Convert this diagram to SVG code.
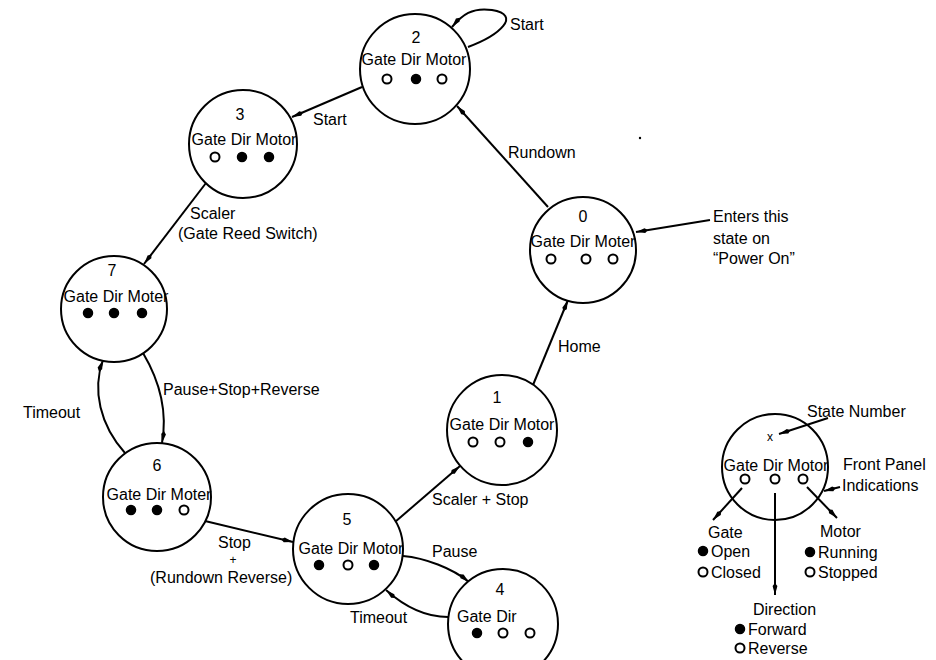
<svg xmlns="http://www.w3.org/2000/svg" width="936" height="660" viewBox="0 0 936 660">
<defs>
<style>
.st{fill:#fff;stroke:#000;stroke-width:2}
.t{font-family:"Liberation Sans",Arial,sans-serif;font-size:16px;fill:#000}
.c{text-anchor:middle}
.on{fill:#000;stroke:#000;stroke-width:1.5}
.off{fill:#fff;stroke:#000;stroke-width:2}
.e{fill:none;stroke:#000;stroke-width:2;marker-end:url(#ah)}
</style>
<marker id="ah" viewBox="0 0 12 6" refX="12" refY="3" markerWidth="12" markerHeight="6" markerUnits="userSpaceOnUse" orient="auto">
<path d="M0,3 L3,0.6 L12,3 L3,5.4 Z" fill="#000"/>
</marker>
</defs>
<rect width="936" height="660" fill="#fff"/>

<g id="edges">
<line class="e" x1="548" y1="207" x2="457" y2="106"/>
<path class="e" d="M468,47 C500,35 522,15 492,10 C472,7 462,15 452,27"/>
<line class="e" x1="362" y1="87" x2="292" y2="117"/>
<line class="e" x1="206" y1="183" x2="144" y2="264"/>
<path class="e" d="M143,353 C162,385 167,415 162,443"/>
<path class="e" d="M125,453 C100,425 92,390 103,360"/>
<line class="e" x1="205" y1="521" x2="293" y2="542"/>
<line class="e" x1="395" y1="522" x2="460" y2="466"/>
<line class="e" x1="533" y1="385" x2="568" y2="300"/>
<path class="e" d="M403,556 C425,558 452,568 469,582"/>
<path class="e" d="M448,617 C425,617 405,607 386,590"/>
<line class="e" x1="710" y1="220" x2="636" y2="232"/>
<circle cx="640" cy="138" r="1.2" fill="#000"/>
</g>

<g id="labels">
<text class="t" x="508" y="158">Rundown</text>
<text class="t" x="510" y="30">Start</text>
<text class="t" x="313" y="125">Start</text>
<text class="t" x="190" y="219">Scaler</text>
<text class="t" x="178" y="239">(Gate Reed Switch)</text>
<text class="t" x="163" y="395">Pause+Stop+Reverse</text>
<text class="t" x="23" y="418">Timeout</text>
<text class="t" x="218" y="548">Stop</text>
<text class="t c" x="233" y="564" style="font-size:12px">+</text>
<text class="t" x="150" y="583">(Rundown Reverse)</text>
<text class="t" x="432" y="505">Scaler + Stop</text>
<text class="t" x="558" y="352">Home</text>
<text class="t" x="432" y="557">Pause</text>
<text class="t" x="350" y="623">Timeout</text>
<text class="t" x="713" y="222">Enters this</text>
<text class="t" x="713" y="244">state on</text>
<text class="t" x="713" y="264">“Power On”</text>
</g>

<g id="state2">
<circle class="st" cx="415" cy="69" r="55"/>
<text class="t c" x="416" y="43">2</text>
<text class="t c" x="414" y="65">Gate Dir Motor</text>
<circle class="off" cx="387" cy="79" r="4.5"/><circle class="on" cx="416" cy="79" r="4.5"/><circle class="off" cx="442" cy="79" r="4.5"/>
</g>

<g id="state3">
<circle class="st" cx="243" cy="144" r="54"/>
<text class="t c" x="240" y="120">3</text>
<text class="t c" x="244" y="145">Gate Dir Motor</text>
<circle class="off" cx="215" cy="157" r="4.5"/><circle class="on" cx="242" cy="157" r="4.5"/><circle class="on" cx="269" cy="157" r="4.5"/>
</g>

<g id="state7">
<circle class="st" cx="114" cy="309" r="53"/>
<text class="t c" x="112" y="276">7</text>
<text class="t c" x="116" y="302">Gate Dir Moter</text>
<circle class="on" cx="88" cy="313" r="4.5"/><circle class="on" cx="114" cy="313" r="4.5"/><circle class="on" cx="142" cy="313" r="4.5"/>
</g>

<g id="state6">
<circle class="st" cx="157" cy="497" r="54"/>
<text class="t c" x="157" y="471">6</text>
<text class="t c" x="159" y="500">Gate Dir Moter</text>
<circle class="on" cx="131" cy="510" r="4.5"/><circle class="on" cx="157" cy="510" r="4.5"/><circle class="off" cx="184" cy="510" r="4.5"/>
</g>

<g id="state5">
<circle class="st" cx="348" cy="549" r="55"/>
<text class="t c" x="347" y="525">5</text>
<text class="t c" x="351" y="554">Gate Dir Motor</text>
<circle class="on" cx="319" cy="565" r="4.5"/><circle class="off" cx="348" cy="565" r="4.5"/><circle class="on" cx="374" cy="565" r="4.5"/>
</g>

<g id="state4">
<circle class="st" cx="503" cy="624" r="55"/>
<text class="t c" x="500" y="595">4</text>
<text class="t" x="457" y="622">Gate Dir</text>
<circle class="on" cx="477" cy="633" r="4.5"/><circle class="off" cx="503" cy="633" r="4.5"/><circle class="off" cx="530" cy="633" r="4.5"/>
</g>

<g id="state1">
<circle class="st" cx="502" cy="430" r="55"/>
<text class="t c" x="497" y="403">1</text>
<text class="t c" x="502" y="430">Gate Dir Motor</text>
<circle class="off" cx="473" cy="442" r="4.5"/><circle class="off" cx="500" cy="442" r="4.5"/><circle class="on" cx="528" cy="442" r="4.5"/>
</g>

<g id="state0">
<circle class="st" cx="583" cy="250" r="53"/>
<text class="t c" x="583" y="222">0</text>
<text class="t c" x="583" y="247">Gate Dir Moter</text>
<circle class="off" cx="551" cy="259" r="4.5"/><circle class="off" cx="586" cy="259" r="4.5"/><circle class="off" cx="613" cy="259" r="4.5"/>
</g>

<g id="legend">
<circle class="st" cx="775" cy="467" r="53"/>
<text class="t c" x="770" y="441" style="font-size:12px">x</text>
<text class="t c" x="776" y="471">Gate Dir Motor</text>
<circle class="off" cx="745" cy="479" r="4.5"/><circle class="off" cx="775" cy="479" r="4.5"/><circle class="off" cx="803" cy="479" r="4.5"/>
<line class="e" x1="828" y1="418" x2="779" y2="434"/>
<line class="e" x1="840" y1="487" x2="824" y2="491"/>
<line class="e" x1="742" y1="488" x2="713" y2="520"/>
<line class="e" x1="807" y1="487" x2="837" y2="518"/>
<line class="e" x1="775" y1="493" x2="775" y2="595"/>
<text class="t" x="807" y="417">State Number</text>
<text class="t" x="843" y="470">Front Panel</text>
<text class="t" x="842" y="491">Indications</text>
<text class="t" x="708" y="538">Gate</text>
<circle class="on" cx="703" cy="551" r="4.5"/><text class="t" x="711" y="557">Open</text>
<circle class="off" cx="703" cy="572" r="4.5"/><text class="t" x="711" y="578">Closed</text>
<text class="t" x="820" y="537">Motor</text>
<circle class="on" cx="810" cy="552" r="4.5"/><text class="t" x="818" y="558">Running</text>
<circle class="off" cx="810" cy="572" r="4.5"/><text class="t" x="818" y="578">Stopped</text>
<text class="t" x="753" y="615">Direction</text>
<circle class="on" cx="740" cy="629" r="4.5"/><text class="t" x="748" y="635">Forward</text>
<circle class="off" cx="740" cy="648" r="4.5"/><text class="t" x="748" y="654">Reverse</text>
</g>
</svg>
